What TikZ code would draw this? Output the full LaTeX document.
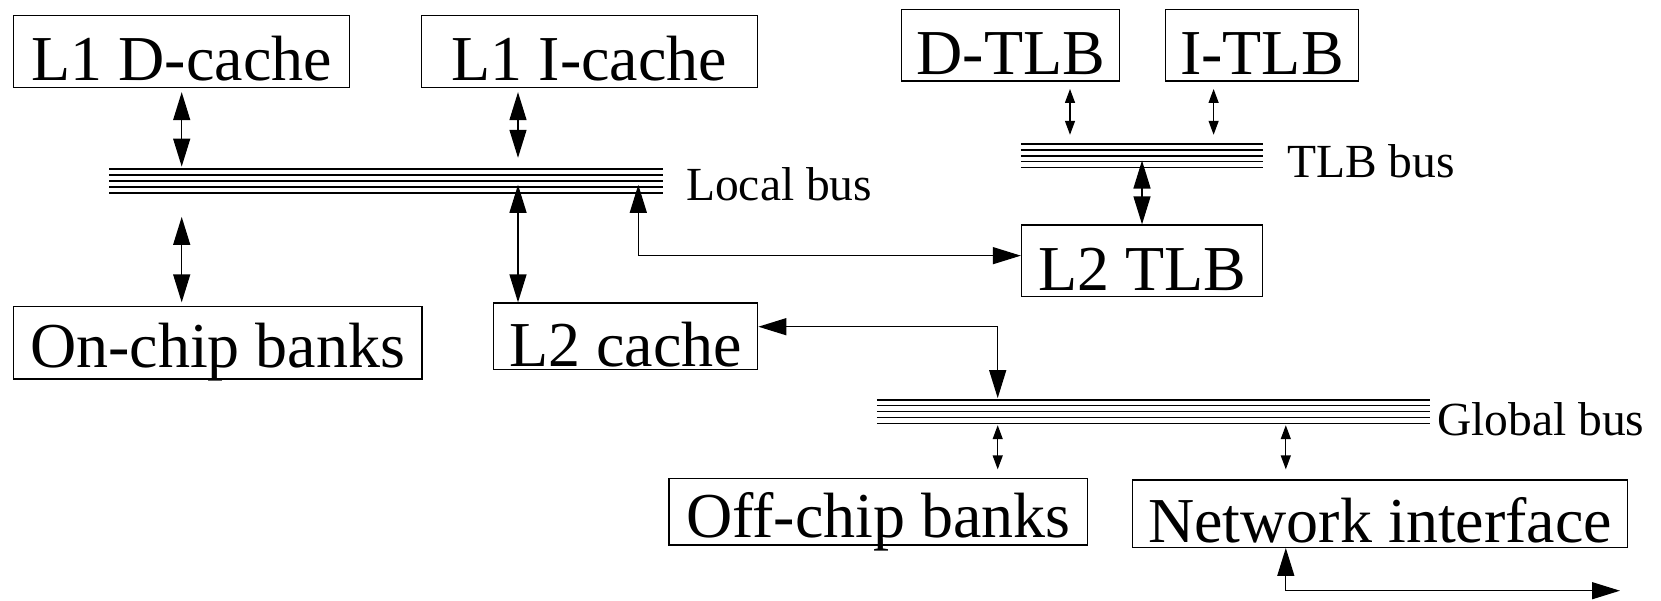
\documentclass[tikz,border=0pt]{standalone}
\usepackage{fontspec}
\setmainfont{Liberation Serif}
\usetikzlibrary{arrows.meta,calc}
\begin{document}
\begin{tikzpicture}[x=1pt,y=-1pt,
 blk/.style={draw,line width=1.3pt,inner sep=0pt,anchor=base,font=\fontsize{64}{64}\selectfont},
 lbl/.style={inner sep=0pt,anchor=base west,font=\fontsize{47.5}{47.5}\selectfont},
 bus/.style={inner sep=0pt},
 busline/.style={line width=1.4pt},
 bigarr/.style={line width=1.3pt,{Triangle[width=17pt,length=28pt]}-{Triangle[width=17pt,length=28pt]}},
 smallarr/.style={line width=1.3pt,{Triangle[width=10pt,length=14pt]}-{Triangle[width=10pt,length=14pt]}},
]
\useasboundingbox (0,0) rectangle (1661,600);

% boxes
\node[blk,minimum width=335.8pt,text height=64.5pt,text depth=7.5pt] (l1d) at (181.7,80) {L1 D-cache};
\node[blk,minimum width=335.8pt,text height=64.5pt,text depth=7.5pt] (l1i) at (589.5,80) {L1 I-cache};
\node[blk,minimum width=218.2pt,text height=64.7pt,text depth=7pt] (dtlb) at (1010.7,74) {D-TLB};
\node[blk,minimum width=192.5pt,text height=64.7pt,text depth=7pt] (itlb) at (1262,74) {I-TLB};
\node[blk,minimum width=241pt,text height=65pt,text depth=6.7pt] (l2tlb) at (1142,290) {L2 TLB};
\node[blk,minimum width=408.7pt,text height=60.6pt,text depth=11.7pt] (onchip) at (217.7,367.3) {On-chip banks};
\node[blk,minimum width=264.2pt,text height=63pt,text depth=3.3pt] (l2c) at (625.6,366) {L2 cache};
\node[blk,minimum width=418.7pt,text height=59.4pt,text depth=7.3pt] (offchip) at (878.4,537.7) {Off-chip banks};
\node[blk,minimum width=495pt,text height=62.7pt,text depth=4.6pt] (netif) at (1380.2,542.7) {Network interface};

% buses
\node[bus,minimum width=553.4pt,minimum height=23.4pt] (lbus) at (386,181) {};
\node[bus,minimum width=241.5pt,minimum height=23pt] (tbus) at (1141.75,155.8) {};
\node[bus,minimum width=553pt,minimum height=23.3pt] (gbus) at (1153.5,411.65) {};
\foreach \b in {lbus,tbus,gbus}{
  \foreach \f in {0,0.25,0.5,0.75,1}{
    \draw[busline] ($(\b.north west)!\f!(\b.south west)$) -- ($(\b.north east)!\f!(\b.south east)$);
  }
}

% labels
\node[lbl] (lblocal) at (686,200) {Local bus};
\node[lbl] (lbtlb) at (1287,177.7) {TLB bus};
\node[lbl] (lbglobal) at (1437,435) {Global bus};

% column coordinates
\coordinate (colA) at (518,0);
\coordinate (colB) at (638.3,0);
\coordinate (colC) at (1070,0);
\coordinate (colD) at (1213.6,0);
\coordinate (colE) at (997.7,0);
\coordinate (colF) at (1285.8,0);
\coordinate (gcorner) at (997.7,326.7);
\coordinate (netout) at (1620,590.7);

% local bus connectors
\draw[bigarr] ($(l1d.south)+(0,4)$) -- ($(l1d.south |- lbus.north)+(0,-2.5)$);
\draw[bigarr] ($(colA |- l1i.south)+(0,4)$) -- ($(colA |- lbus.north)+(0,-11.3)$);
\draw[bigarr] ($(l1d.south |- lbus.south)+(0,24)$) -- ($(onchip.north -| l1d.south)+(0,-3.7)$);
\draw[bigarr] ($(colA |- lbus.north)+(0,15.7)$) -- (colA |- l2c.north);
\draw[bigarr] ($(colB |- lbus.north)+(0,15.7)$) |- ($(l2tlb.west)+(0,-5.2)$);

% TLB bus connectors
\draw[smallarr] ($(colC |- dtlb.south)+(0,7.3)$) -- ($(colC |- tbus.north)+(0,-9.3)$);
\draw[smallarr] ($(colD |- itlb.south)+(0,7.3)$) -- ($(colD |- tbus.north)+(0,-9.3)$);
\draw[bigarr] ($(l2tlb.north |- tbus.north)+(0,16.4)$) -- (l2tlb.north);

% global bus connectors
\draw[bigarr] (l2c.east |- gcorner) -- (gcorner) -- ($(gcorner |- gbus.north)+(0,-1.7)$);
\draw[smallarr] ($(colE |- gbus.south)+(0,1.7)$) -- ($(colE |- offchip.north)+(0,-8.3)$);
\draw[smallarr] ($(colF |- gbus.south)+(0,1.7)$) -- ($(colF |- netif.north)+(0,-10)$);
\draw[bigarr] (colF |- netif.south) |- (netout);
\end{tikzpicture}
\end{document}
